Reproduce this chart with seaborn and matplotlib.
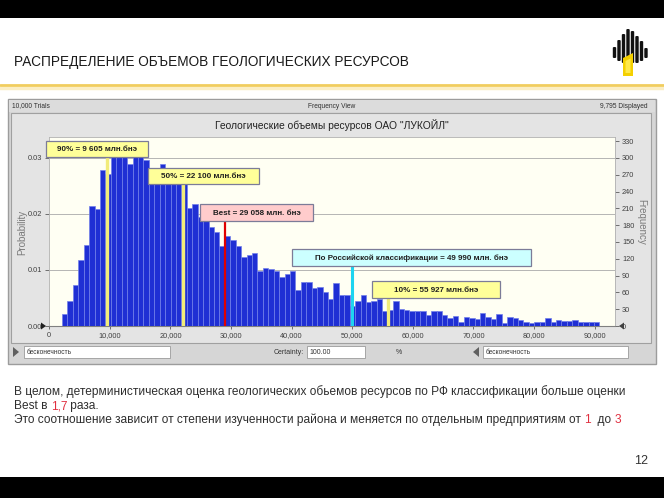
import numpy as np
import pandas as pd
import matplotlib
matplotlib.use("Agg")
import matplotlib.pyplot as plt
import seaborn as sns
from matplotlib.patches import Rectangle, Polygon, FancyBboxPatch
from matplotlib.lines import Line2D
from matplotlib import font_manager

# ---------------- data ----------------
trials = 10000
displayed = 9795
bin_start = 2100
bin_width = 896
counts = [22, 45, 74, 117, 145, 214, 209, 278, 271,
          310, 325, 318, 290, 322, 312, 296, 275, 272, 289, 275, 265, 268, 262, 210, 217,
          195, 190, 177, 168, 142, 161, 154, 143, 123, 126, 130,
          99, 103, 101, 98, 87, 93, 98, 65, 79, 79, 67, 70, 60,
          48, 76, 55, 55, 36, 45, 55, 42, 44, 48,
          27, 29, 44, 30, 29, 27, 27, 26, 20, 27, 27, 20, 14, 18,
          8, 16, 15, 13, 24, 16, 12, 21, 5, 16, 15, 10, 8, 6, 8, 8, 14, 8, 10, 9, 9, 11, 8, 8, 8, 8]
marker_values = [9605, 22100, 29058, 49990, 55927]
marker_labels = ["90% = 9 605 млн.бнэ", "50% = 22 100 млн.бнэ", "Best = 29 058 млн. бнэ",
                 "По Российской классификации = 49 990 млн. бнэ", "10% = 55 927 млн.бнэ"]
x_ticks = [0, 10000, 20000, 30000, 40000, 50000, 60000, 70000, 80000, 90000]
freq_ticks = [0, 30, 60, 90, 120, 150, 180, 210, 240, 270, 300, 330]
prob_ticks = [0.00, 0.01, 0.02, 0.03]

slide_title = "РАСПРЕДЕЛЕНИЕ ОБЪЕМОВ ГЕОЛОГИЧЕСКИХ РЕСУРСОВ"
chart_title = "Геологические объемы ресурсов ОАО \"ЛУКОЙЛ\""
body_line1 = "В целом, детерминистическая оценка геологических обьемов ресурсов по РФ классификации больше оценки"
body_line2 = [("Best в ", "k"), ("1,7", "r"), (" раза.", "k")]
body_line3 = [("Это соотношение зависит от степени изученности района и меняется по отдельным предприятиям от ", "k"),
              ("1", "r"), ("  до ", "k"), ("3", "r")]

# ---------------- setup ----------------
sns.set_style("white")


def have(name):
    try:
        font_manager.findfont(name, fallback_to_default=False)
        return True
    except Exception:
        return False


base = ["Liberation Sans", "DejaVu Sans"]
narrow = (["Liberation Sans Narrow"] if have("Liberation Sans Narrow") else []) + base
plt.rcParams['font.family'] = base

W, H = 664, 498
fig = plt.figure(figsize=(W / 100, H / 100), dpi=100)
fig.patch.set_facecolor("white")


def fx(x):
    return x / W


def fy(y):
    return 1 - y / H


def rect(x0, y0, x1, y1, fc, ec="none", lw=0.8, z=-2):
    r = Rectangle((fx(x0), fy(y1)), (x1 - x0) / W, (y1 - y0) / H, transform=fig.transFigure,
                  facecolor=fc, edgecolor=ec, linewidth=lw, zorder=z)
    fig.add_artist(r)
    return r


def poly(pts, fc, z=5):
    p = Polygon([(fx(a), fy(b)) for a, b in pts], closed=True, transform=fig.transFigure,
                facecolor=fc, edgecolor="none", zorder=z)
    fig.add_artist(p)


def txt(x, y, s, **kw):
    return fig.text(fx(x), fy(y), s, **kw)


# black bands
rect(0, 0, 664, 18, "black")
rect(0, 477, 664, 498, "black")

# slide title + gold rule
txt(14, 62, slide_title, fontsize=9.85, va="center", ha="left", color="#1a1a1a", family=narrow)
fig.add_artist(Line2D([0, 1], [fy(88), fy(88)], transform=fig.transFigure, color="#fbeec4", lw=2.5, zorder=2))
fig.add_artist(Line2D([0, 1], [fy(85.5), fy(85.5)], transform=fig.transFigure, color="#f1cd5e", lw=2, zorder=3))

# logo (simplified)
bar_x = [614.5, 619, 623.5, 628, 632.5, 637, 641.5, 646]
bar_top = [47, 40, 34, 29, 31, 36, 41, 48]
bar_bot = [58, 61, 63, 58, 63, 63, 61, 58]
for bx, bt, bb in zip(bar_x, bar_top, bar_bot):
    fig.add_artist(FancyBboxPatch((fx(bx - 1.7), fy(bb)), 3.4 / W, (bb - bt) / H,
                                  boxstyle="round,pad=0,rounding_size=0.002",
                                  transform=fig.transFigure, facecolor="#111111", edgecolor="none", zorder=5))
poly([(623, 58), (633, 53), (633, 76), (623, 76)], "#f4d000", z=6)
poly([(625.5, 61), (630.5, 58.5), (630.5, 73), (625.5, 73)], "#ffe94a", z=7)

# Crystal Ball window
rect(8, 99, 656, 364, "#d6d6d6", ec="#9c9c9c", lw=1)
rect(9, 100, 655, 112, "#dcdcdc")
txt(12, 106, "10,000 Trials", fontsize=4.8, va="center", ha="left", color="#303030")
txt(332, 106, "Frequency View", fontsize=4.8, va="center", ha="center", color="#303030")
txt(648, 106, "9,795 Displayed", fontsize=4.8, va="center", ha="right", color="#303030")
rect(11, 113, 651, 343, "#e4e4e4", ec="#a0a0a0", lw=0.8)
txt(332, 125.5, chart_title, fontsize=7.4, va="center", ha="center", color="#222222")

# bottom toolbar
poly([(13, 347), (19, 352), (13, 357)], "#606060")
rect(24, 346, 170, 358, "white", ec="#9a9a9a", lw=0.6)
txt(27, 352, "бесконечность", fontsize=4.8, va="center", ha="left", color="#333333")
txt(304, 352, "Certainty:", fontsize=5, va="center", ha="right", color="#333333")
rect(307, 346, 365, 358, "white", ec="#9a9a9a", lw=0.6)
txt(309, 352, "100.00", fontsize=5, va="center", ha="left", color="#333333")
txt(399, 352, "%", fontsize=5, va="center", ha="center", color="#333333")
poly([(479, 347), (473, 352), (479, 357)], "#606060")
rect(483, 346, 628, 358, "white", ec="#9a9a9a", lw=0.6)
txt(486, 352, "бесконечность", fontsize=4.8, va="center", ha="left", color="#333333")

# ---------------- histogram ----------------
left, right, top, bottom = 49.3, 615, 136.7, 326
ax = fig.add_axes([fx(left), fy(bottom), (right - left) / W, (bottom - top) / H])
ax.set_zorder(1)
ax.set_facecolor("#fffff3")
edges = [bin_start + bin_width * i for i in range(len(counts) + 1)]
centers = [(edges[i] + edges[i + 1]) / 2 for i in range(len(counts))]
df = pd.DataFrame({"value": centers, "freq": counts})
sns.histplot(data=df, x="value", weights="freq", bins=edges, ax=ax,
             color="#1f2fd4", edgecolor="#7280ea", linewidth=0.5, alpha=1, zorder=3)
ax.set_xlim(0, 93370)
ax.set_ylim(0, 338)
for g in [100, 200, 300]:
    ax.axhline(g, color="#a9a9a9", lw=0.6, zorder=1)
ax.set_xlabel("")
ax.set_ylabel("")
ax.set_xticks(x_ticks)
ax.set_xticklabels([f"{v:,}" for v in x_ticks])
ax.yaxis.tick_right()
ax.set_yticks(freq_ticks)
ax.tick_params(axis="x", length=2, labelsize=5.3, colors="#404040", pad=2, width=0.5, bottom=True)
ax.tick_params(axis="y", length=3, labelsize=5.3, colors="#404040", pad=2, width=0.5, right=True, left=False)
sec = ax.secondary_yaxis("left", functions=(lambda c: c / trials, lambda p: p * trials))
sec.set_yticks(prob_ticks)
sec.set_yticklabels([f"{v:.2f}" for v in prob_ticks])
sec.tick_params(length=3, labelsize=5.3, colors="#404040", pad=2, width=0.5)
for s in ["left", "right", "top"]:
    ax.spines[s].set_color("#b0b0b0")
    ax.spines[s].set_linewidth(0.6)
ax.spines["bottom"].set_color("#808080")
ax.spines["bottom"].set_linewidth(0.8)
sec.spines["left"].set_visible(False)

txt(22, 232, "Probability", fontsize=7, rotation=90, va="center", ha="center", color="#7a7a7a")
txt(641, 222, "Frequency", fontsize=7, rotation=270, va="center", ha="center", color="#7a7a7a")
poly([(41, 322.5), (46, 326), (41, 329.5)], "#202020", z=6)
poly([(624, 322.5), (619, 326), (624, 329.5)], "#404040", z=6)

# marker lines and boxes
line_cols = ["#f2ec7a", "#f2ec7a", "#e00000", "#1ed4f0", "#f2ec7a"]
line_w = [2.4, 2.4, 1.6, 2.2, 2.4]
box_px = [(46, 141, 148, 157), (148, 168, 259, 184), (200, 204.5, 313, 221),
          (292, 249, 531, 265.5), (372, 281, 500, 298)]
box_fc = ["#ffff99", "#ffff99", "#ffcccc", "#ccffff", "#ffff99"]
for v, lab, col, lw_, (x0, y0, x1, y1), fc in zip(marker_values, marker_labels, line_cols, line_w, box_px, box_fc):
    ax.vlines(v, 0, (bottom - y1) / ((bottom - top) / 338), colors=col, lw=lw_, zorder=4)
    rect(x0, y0, x1, y1, fc, ec="#7c7c98", lw=0.9, z=8)
    txt((x0 + x1) / 2, (y0 + y1) / 2 + 0.5, lab, fontsize=5.8, fontweight="bold", va="center",
        ha="center", color="#202020", zorder=9)

# ---------------- body text ----------------
renderer = fig.canvas.get_renderer()
body_fs = 8.58
txt(14, 392, body_line1, fontsize=body_fs, va="center", ha="left", color="#2e2e2e")


def width_of(s):
    if not s:
        return 0
    t = fig.text(0, 0, s + "x", fontsize=body_fs)
    w1 = t.get_window_extent(renderer=renderer).width
    t.remove()
    t2 = fig.text(0, 0, "x", fontsize=body_fs)
    w2 = t2.get_window_extent(renderer=renderer).width
    t2.remove()
    return w1 - w2


def segments(x, y, parts):
    prefix = ""
    for s, c in parts:
        col = "#e03040" if c == "r" else "#2e2e2e"
        txt(x + width_of(prefix), y, s, fontsize=body_fs, va="center", ha="left", color=col)
        prefix += s


segments(14, 406, body_line2)
segments(14, 420, body_line3)
txt(648, 461, "12", fontsize=9, va="center", ha="right", color="#333333")

fig.savefig("out.png", dpi=100, facecolor="white")
